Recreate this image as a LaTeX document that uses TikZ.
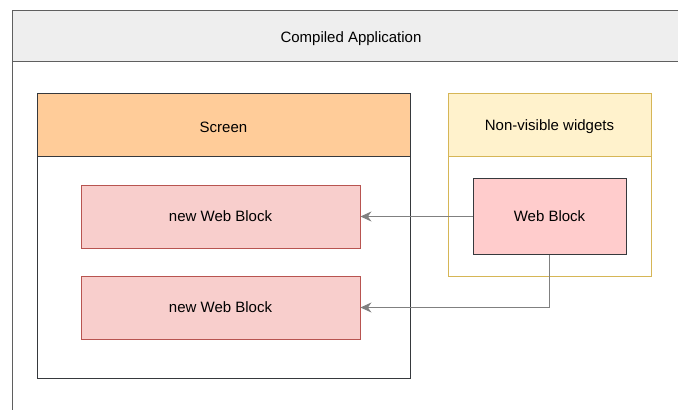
\documentclass[tikz,border=0pt]{standalone}
\usepackage{fontspec}
\setmainfont{Liberation Sans}
\usetikzlibrary{arrows.meta}
\definecolor{frameline}{HTML}{5F5F5F}
\definecolor{headgrey}{HTML}{EEEEEE}
\definecolor{darkline}{HTML}{36393D}
\definecolor{screenhead}{HTML}{FFCC99}
\definecolor{widgethead}{HTML}{FFF2CC}
\definecolor{widgetline}{HTML}{D6B656}
\definecolor{blockfill}{HTML}{FFCCCC}
\definecolor{newfill}{HTML}{F8CECC}
\definecolor{newline}{HTML}{B85450}
\definecolor{linkline}{HTML}{808080}
\tikzset{
  lbl/.style={font=\fontsize{15}{18}\selectfont, text=black},
  newblock/.style={draw=newline, fill=newfill, line width=0.9pt, minimum width=279pt, minimum height=63pt, lbl},
  link/.style={draw=linkline, line width=1pt, -{Stealth[length=11pt,width=10pt]}}
}
\begin{document}
\begin{tikzpicture}[x=1pt,y=-1pt]
\useasboundingbox (0,0) rectangle (678,410);
\clip (0,0) rectangle (678,410);
% application frame (runs past the right and bottom edges)
\fill[white] (0,0) rectangle (678,410);
\draw[frameline, line width=1.2pt, fill=headgrey] (12.5,430) -- (12.5,10.5) -- (700,10.5) -- (700,61.5) -- (12.5,61.5);
\node[lbl] (app) at (351,38.5) {Compiled Application};
% screen container
\draw[darkline, line width=1pt, fill=screenhead] (37,93) rectangle (410,156);
\draw[darkline, line width=1pt] (37,156) rectangle (410,378);
\node[lbl] (screen) at (223.5,127) {Screen};
% non-visible widgets container
\draw[widgetline, line width=1pt, fill=widgethead] (448,93) rectangle (651,156);
\draw[widgetline, line width=1pt] (448,156) rectangle (651,276);
\node[lbl] (nvw) at (549.5,127) {Non-visible widgets};
% blocks
\node[draw=darkline, fill=blockfill, line width=0.9pt, minimum width=153pt, minimum height=76pt, lbl] (wb) at (549.5,216.5) {Web Block};
\node[newblock] (nwb1) at (220.5,216.5) {new Web Block};
\node[newblock] (nwb2) at (220.5,307.5) {new Web Block};
% connectors
\draw[link] (wb.west) -- (nwb1.east);
\draw[link] (wb.south) |- (nwb2.east);
\end{tikzpicture}
\end{document}
